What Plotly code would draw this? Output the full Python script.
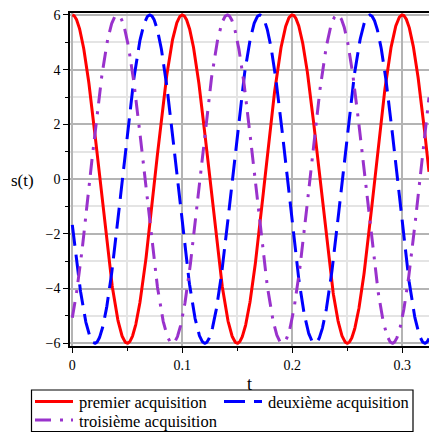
import numpy as np
import plotly.graph_objects as go

# Series (sinusoids: amplitude, frequency, time of first peak)
series_names = ["premier acquisition", "deuxième acquisition", "troisième acquisition"]
amplitudes = [6.0, 6.0, 6.0]
frequencies_hz = [10.0, 10.0, 10.0]
peak_times = [0.0, 0.0705, 0.041]
t_start, t_end = 0.0, 0.3243

x_tick_vals = [0, 0.1, 0.2, 0.3]
x_tick_text = ["0", "0.1", "0.2", "0.3"]
y_tick_vals = [-6, -4, -2, 0, 2, 4, 6]

colors = ["#ff0000", "#0000ff", "#9932cc"]
dashes = ["solid", "21px,9px", "16px,9px,3px,8px"]

t = np.linspace(t_start, t_end, 1200)

fig = go.Figure()
for name, a, f, tp, c, d in zip(series_names, amplitudes, frequencies_hz, peak_times, colors, dashes):
    s = a * np.cos(2 * np.pi * f * (t - tp))
    fig.add_trace(go.Scatter(x=t, y=s, mode="lines", name=name, showlegend=False,
                             line=dict(color=c, width=3, dash=d)))

# ---- layout geometry (pixels) ----
W, H = 429, 433
ML, MR, MT, MB = 70, 0, 13, 87
PW, PH = W - ML - MR, H - MT - MB


def px(xp):
    return (xp - ML) / PW


def py(yp):
    return (H - MB - yp) / PH


font = "Liberation Serif"

# Legend drawn as a box with line samples and text
shapes = [dict(type="rect", xref="paper", yref="paper",
               x0=px(31.5), x1=px(413), y0=py(390), y1=py(431.5),
               line=dict(color="black", width=1.2), fillcolor="white", layer="above")]
legend_slots = [(35, 401.5), (224, 401.5), (35, 420)]
annotations = [dict(text="s(t)", xref="paper", yref="paper", x=px(22), y=py(180),
                    xanchor="center", yanchor="middle", showarrow=False,
                    font=dict(family=font, size=17))]
for (lx, ly), name, c, d in zip(legend_slots, series_names, colors, dashes):
    shapes.append(dict(type="line", xref="paper", yref="paper",
                       x0=px(lx), x1=px(lx + 38), y0=py(ly), y1=py(ly),
                       line=dict(color=c, width=3, dash=d), layer="above"))
    annotations.append(dict(text=name, xref="paper", yref="paper",
                            x=px(lx + 42), y=py(ly + 1), xanchor="left", yanchor="middle",
                            showarrow=False, font=dict(family=font, size=16.5, color="black")))

fig.update_layout(
    width=W, height=H,
    margin=dict(l=ML, r=MR, t=MT, b=MB, autoexpand=False),
    paper_bgcolor="white", plot_bgcolor="white",
    font=dict(family=font, size=14, color="black"),
    showlegend=False,
    shapes=shapes,
    annotations=annotations,
)
fig.update_xaxes(
    range=[-0.0021, 0.3243], tickvals=x_tick_vals, ticktext=x_tick_text,
    showgrid=True, gridcolor="#b4b4b4", gridwidth=1.5,
    showline=True, linecolor="black", linewidth=1.5, mirror=True,
    ticks="outside", ticklen=5, tickcolor="black", zeroline=False,
    minor=dict(dtick=0.05, tick0=0, showgrid=True, gridcolor="#e4e4e4", gridwidth=1.5,
               ticks="outside", ticklen=3, tickcolor="black"),
    title=dict(text="t", font=dict(family=font, size=18), standoff=6),
)
fig.update_yaxes(
    range=[-6.1, 6.07], tickvals=y_tick_vals,
    showgrid=True, gridcolor="#b4b4b4", gridwidth=1.5,
    showline=True, linecolor="black", linewidth=1.5, mirror=False,
    ticks="outside", ticklen=5, tickcolor="black", zeroline=False,
    minor=dict(dtick=1, tick0=0, showgrid=True, gridcolor="#e4e4e4", gridwidth=1.5,
               ticks="outside", ticklen=3, tickcolor="black"),
)

fig.write_html("out.html", config={"displayModeBar": False},
               post_script="document.body.style.margin='0';")
